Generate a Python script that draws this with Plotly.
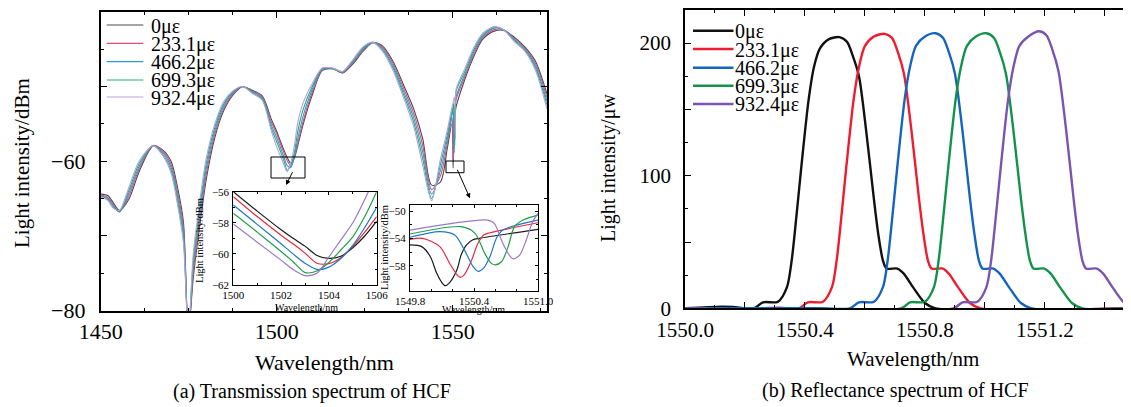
import plotly.graph_objects as go

# page is 1131x407; the html body adds an 8px margin, so the figure is laid out in page pixels minus 8
PAGE_W, PAGE_H, OFF = 1131, 407, 8
W, H = PAGE_W - OFF, PAGE_H - OFF
FONT = "Liberation Serif, Times New Roman, serif"

strain_labels = ["0με", "233.1με", "466.2με", "699.3με", "932.4με"]

# ---------------- (a) transmission spectrum, main plot ----------------
wl_main = [1450, 1452, 1453.5, 1455.3, 1458, 1461, 1464.9, 1467.5, 1470, 1472,
           1473.5, 1474.9, 1476.3, 1478, 1480, 1482.5, 1485, 1487.5, 1490.3, 1493,
           1495.9, 1498.5, 1500, 1501, 1502, 1503, 1504, 1505, 1506, 1507.5,
           1510, 1513, 1516, 1518.7, 1522, 1524.5, 1527.3, 1530, 1533, 1536.5,
           1539, 1541.5, 1544, 1546.5, 1548.5, 1549.8, 1550.13, 1550.27, 1550.44, 1550.6,
           1550.77, 1551.0, 1553.5, 1556, 1558.5, 1561.8, 1564.5, 1567.5, 1570.5, 1573.5,
           1576.8]
trans_0 = [-64.4, -64.6, -65.5, -66.6, -65.1, -61.3, -57.95, -58.45, -60.0, -63.9,
           -68.1, -83, -75.6, -69.1, -62.4, -56.7, -53.2, -51.2, -50.05, -50.5,
           -51.25, -54.4, -56.0, -57.25, -58.45, -59.5, -60.29, -59.6, -57.9, -55.1,
           -51.3, -47.85, -47.65, -48.2, -46.8, -45.3, -44.15, -44.55, -46.6, -50.3,
           -53.1, -57.0, -63.2, -62.8, -58.2, -54.95, -60.92, -57.0, -54.0, -53.8,
           -53.35, -52.67, -49.0, -46.0, -43.7, -42.6, -42.5, -43.4, -44.7, -46.6,
           -51.0]
trans_233 = [-64.5, -64.85, -65.7, -66.75, -64.7, -60.95, -57.9, -58.6, -60.4, -64.5,
             -68.8, -83, -74.8, -68.3, -61.7, -56.25, -52.9, -51.05, -50.0, -50.6,
             -51.4, -54.8, -56.32, -57.6, -58.8, -59.95, -60.62, -59.5, -57.6, -54.7,
             -50.9, -47.8, -47.6, -48.15, -46.65, -45.15, -44.1, -44.7, -46.9, -50.75,
             -53.7, -57.9, -63.8, -62.0, -57.6, -54.13, -56.5, -59.7, -54.8, -53.1,
             -52.6, -51.7, -48.65, -45.7, -43.5, -42.4, -42.45, -43.55, -44.85, -46.9,
             -51.5]
trans_466 = [-64.6, -65.0, -65.9, -66.8, -64.3, -60.6, -57.9, -58.8, -60.8, -65.1,
             -69.5, -83, -74.0, -67.5, -61.0, -55.8, -52.6, -50.9, -50.0, -50.7,
             -51.55, -55.2, -56.86, -58.1, -59.35, -60.6, -60.85, -59.45, -57.0, -54.0,
             -50.5, -47.7, -47.6, -48.1, -46.5, -45.0, -44.1, -44.9, -47.2, -51.2,
             -54.3, -58.8, -64.4, -61.3, -57.0, -53.83, -53.1, -54.6, -58.83, -54.5,
             -52.3, -51.31, -48.3, -45.4, -43.3, -42.2, -42.4, -43.7, -45.0, -47.2,
             -52.0]
trans_699 = [-64.7, -65.1, -66.1, -66.75, -63.9, -60.25, -57.9, -59.0, -61.2, -65.7,
             -70.2, -83, -73.2, -66.7, -60.3, -55.35, -52.3, -50.75, -50.0, -50.8,
             -51.7, -55.6, -57.39, -58.6, -59.85, -61.2, -60.55, -58.9, -56.0, -53.1,
             -50.1, -47.6, -47.6, -48.05, -46.35, -44.85, -44.1, -45.1, -47.5, -51.65,
             -54.9, -59.7, -65.0, -60.5, -56.4, -53.35, -52.8, -52.3, -54.2, -57.86,
             -52.7, -50.58, -47.95, -45.1, -43.1, -42.1, -42.4, -43.85, -45.15, -47.5,
             -52.5]
trans_932 = [-64.75, -65.25, -66.25, -66.6, -63.5, -59.9, -57.95, -59.15, -61.6, -66.3,
             -70.9, -83, -72.4, -65.9, -59.6, -54.9, -52.0, -50.6, -50.0, -50.9,
             -51.85, -56.0, -58.08, -59.25, -60.4, -61.4, -60.2, -58.0, -54.8, -52.2,
             -49.7, -47.5, -47.55, -48.0, -46.2, -44.7, -44.1, -45.25, -47.8, -52.1,
             -55.5, -60.6, -65.3, -59.8, -55.8, -52.77, -52.2, -51.8, -51.5, -51.9,
             -56.99, -50.34, -47.6, -44.8, -42.9, -42.0, -42.45, -44.0, -45.3, -47.8,
             -53.0]

# ---------------- inset 1 (1500-1506 nm) ----------------
wl_in1 = [1500, 1501, 1502, 1502.5, 1503, 1503.5, 1504, 1504.5, 1505, 1505.5, 1506]
in1_0 = [-56.0, -57.25, -58.45, -59.0, -59.5, -60.1, -60.29, -60.15, -59.6, -58.85, -57.9]
in1_233 = [-56.32, -57.6, -58.8, -59.35, -59.95, -60.6, -60.62, -60.25, -59.5, -58.6, -57.6]
in1_466 = [-56.86, -58.1, -59.35, -60.0, -60.6, -61.0, -60.85, -60.3, -59.45, -58.3, -57.0]
in1_699 = [-57.39, -58.6, -59.85, -60.5, -61.2, -61.1, -60.55, -59.75, -58.9, -57.6, -56.0]
in1_932 = [-58.08, -59.25, -60.4, -61.0, -61.4, -61.25, -60.2, -59.1, -58.0, -56.5, -54.8]

# ---------------- inset 2 (FBG dip region) ----------------
in2_wl_0 = [1549.80, 1549.91, 1549.99, 1550.05, 1550.10, 1550.13, 1550.17, 1550.24, 1550.28, 1550.33, 1550.39, 1550.45, 1551.00]
in2_0 = [-54.95, -55.2, -56.65, -59.08, -60.5, -60.92, -60.5, -58.6, -56.4, -54.95, -54.2, -53.98, -52.67]
in2_wl_233 = [1549.80, 1549.92, 1550.08, 1550.17, 1550.24, 1550.27, 1550.31, 1550.38, 1550.43, 1550.49, 1550.55, 1551.00]
in2_233 = [-54.13, -53.98, -55.2, -57.6, -59.3, -59.7, -59.3, -57.1, -54.95, -53.5, -53.16, -51.7]
in2_wl_466 = [1549.80, 1550.08, 1550.22, 1550.31, 1550.39, 1550.44, 1550.49, 1550.55, 1550.61, 1550.67, 1551.00]
in2_466 = [-53.83, -53.0, -53.5, -55.68, -58.1, -58.83, -58.35, -56.65, -53.98, -52.77, -51.31]
in2_wl_699 = [1549.80, 1550.28, 1550.41, 1550.50, 1550.56, 1550.60, 1550.66, 1550.72, 1550.78, 1550.86, 1551.00]
in2_699 = [-53.35, -52.28, -53.25, -56.17, -57.62, -57.86, -57.38, -55.2, -52.28, -51.31, -50.58]
in2_wl_932 = [1549.80, 1550.53, 1550.59, 1550.67, 1550.74, 1550.77, 1550.83, 1550.89, 1550.95, 1551.00]
in2_932 = [-52.77, -51.31, -51.8, -54.7, -56.65, -56.99, -56.4, -54.22, -51.55, -50.34]

# ---------------- (b) reflectance spectrum ----------------
refl_wl_0 = [1550.00, 1550.12, 1550.16, 1550.23, 1550.26, 1550.31, 1550.34, 1550.355, 1550.366, 1550.388,
             1550.412, 1550.43, 1550.45, 1550.48, 1550.515, 1550.54, 1550.56, 1550.58, 1550.605, 1550.63,
             1550.645, 1550.66, 1550.672, 1550.708, 1550.73, 1550.76, 1550.80, 1550.835, 1551.49]
refl_0 = [0, 1.2, 1.0, 0, 4.5, 5, 16, 35, 57, 107, 157, 182, 196, 203, 204.5, 201, 190, 175, 132, 82,
          55, 36, 30, 30, 26, 16, 4, 0, 0]
refl_wl_233 = [1550.00, 1550.25, 1550.31, 1550.38, 1550.41, 1550.46, 1550.49, 1550.505, 1550.516, 1550.538,
               1550.562, 1550.58, 1550.60, 1550.63, 1550.665, 1550.69, 1550.71, 1550.73, 1550.755, 1550.78,
               1550.795, 1550.81, 1550.822, 1550.86, 1550.88, 1550.91, 1550.95, 1550.985, 1551.49]
refl_233 = [0, 0, 0.5, 0, 4.5, 5, 16, 35, 57, 107, 157, 182, 198, 205, 207, 204, 193, 177, 134, 83,
            56, 36, 30, 30, 26, 16, 4, 0, 0]
refl_wl_466 = [1550.00, 1550.45, 1550.55, 1550.58, 1550.63, 1550.66, 1550.675, 1550.686, 1550.708, 1550.732,
               1550.75, 1550.77, 1550.80, 1550.835, 1550.86, 1550.88, 1550.90, 1550.925, 1550.95, 1550.965,
               1550.98, 1550.992, 1551.028, 1551.05, 1551.08, 1551.12, 1551.155, 1551.49]
refl_466 = [0, 0, 0, 4.5, 5, 16, 35, 57, 107, 157, 182, 198, 205, 207.5, 204, 193, 177, 134, 83, 56,
            36, 30, 30, 26, 16, 4, 0, 0]
refl_wl_699 = [1550.00, 1550.72, 1550.75, 1550.80, 1550.83, 1550.845, 1550.856, 1550.878, 1550.902, 1550.92,
               1550.94, 1550.97, 1551.005, 1551.03, 1551.05, 1551.07, 1551.095, 1551.12, 1551.135, 1551.15,
               1551.162, 1551.198, 1551.22, 1551.25, 1551.29, 1551.325, 1551.49]
refl_699 = [0, 0, 4.5, 5, 16, 35, 57, 107, 157, 182, 198, 205, 207.5, 204, 193, 177, 134, 83, 56, 36,
            30, 30, 26, 16, 4, 0, 0]
refl_wl_932 = [1550.00, 1550.895, 1550.925, 1550.975, 1551.005, 1551.02, 1551.031, 1551.053, 1551.077, 1551.095,
               1551.115, 1551.145, 1551.18, 1551.205, 1551.225, 1551.245, 1551.27, 1551.295, 1551.31, 1551.325,
               1551.337, 1551.373, 1551.395, 1551.425, 1551.465, 1551.50]
refl_932 = [0, 0, 4.5, 5, 16, 35, 57, 107, 157, 182, 198, 205, 209, 206, 195, 179, 136, 84, 56, 36,
            30, 30, 26, 16, 4, 0]

main_colors = ["#4a4a4a", "#e24a78", "#2a9dd8", "#2ea67a", "#b3a3dc"]
inset_colors = ["#1a1a1a", "#e8283c", "#1f78c8", "#1f9e48", "#9a78c8"]
refl_colors = ["#111111", "#ee1c2e", "#1565c0", "#12924a", "#7a55b0"]


def px(x):
    return (x - OFF) / W


def py(y):
    return 1 - (y - OFF) / H


fig = go.Figure()

main_series = [trans_0, trans_233, trans_466, trans_699, trans_932]
for name, ys, c in zip(strain_labels, main_series, main_colors):
    fig.add_trace(go.Scatter(x=wl_main, y=ys, mode="lines", name=name, showlegend=False,
                             line=dict(color=c, width=1.1, shape="spline", smoothing=0.8),
                             xaxis="x", yaxis="y"))

refl_series = [(refl_wl_0, refl_0), (refl_wl_233, refl_233), (refl_wl_466, refl_466),
               (refl_wl_699, refl_699), (refl_wl_932, refl_932)]
for name, (xs, ys), c in zip(strain_labels, refl_series, refl_colors):
    fig.add_trace(go.Scatter(x=xs, y=ys, mode="lines", name=name, showlegend=False,
                             line=dict(color=c, width=2.4, shape="spline", smoothing=0.8),
                             xaxis="x2", yaxis="y2"))

in1_series = [in1_0, in1_233, in1_466, in1_699, in1_932]
for name, ys, c in zip(strain_labels, in1_series, inset_colors):
    fig.add_trace(go.Scatter(x=wl_in1, y=ys, mode="lines", name=name, showlegend=False,
                             line=dict(color=c, width=1.2, shape="spline", smoothing=0.8),
                             xaxis="x3", yaxis="y3"))

in2_series = [(in2_wl_0, in2_0), (in2_wl_233, in2_233), (in2_wl_466, in2_466),
              (in2_wl_699, in2_699), (in2_wl_932, in2_932)]
for name, (xs, ys), c in zip(strain_labels, in2_series, inset_colors):
    fig.add_trace(go.Scatter(x=xs, y=ys, mode="lines", name=name, showlegend=False,
                             line=dict(color=c, width=1.2, shape="spline", smoothing=0.8),
                             xaxis="x4", yaxis="y4"))

axis_common = dict(showline=True, linecolor="black", mirror="ticks", ticks="inside",
                   showgrid=False, zeroline=False, tickcolor="black", automargin=False)

fig.update_layout(
    template="none",
    width=W, height=H, autosize=False,
    margin=dict(l=0, r=0, t=0, b=0, pad=0),
    paper_bgcolor="white", plot_bgcolor="white",
    font=dict(family=FONT, color="black"),
    showlegend=False,
    xaxis=dict(**axis_common, domain=[px(100.7), px(547)], range=[1450, 1576.8], anchor="y",
               tickvals=[1450, 1500, 1550], ticktext=["1450", "1500", "1550"],
               linewidth=1.6, ticklen=6, tickwidth=1.3, tickfont=dict(size=22),
               ticklabelstandoff=0,
               minor=dict(ticks="inside", tick0=1450, dtick=12.5, ticklen=3, tickcolor="black")),
    yaxis=dict(**axis_common, domain=[py(310.7), py(11.7)], range=[-80, -40], anchor="x",
               tickvals=[-80, -70, -60, -50, -40], ticktext=["−80", "", "−60", "", "−40"],
               linewidth=1.6, ticklen=6, tickwidth=1.3, tickfont=dict(size=22),
               ticklabelstandoff=9,
               minor=dict(ticks="inside", dtick=5, ticklen=3, tickcolor="black")),
    xaxis2=dict(**axis_common, domain=[px(685), 1.0], range=[1550.0, 1551.487], anchor="y2",
                tickvals=[1550.0, 1550.2, 1550.4, 1550.6, 1550.8, 1551.0, 1551.2, 1551.4],
                ticktext=["1550.0", "", "1550.4", "", "1550.8", "", "1551.2", ""],
                linewidth=1.8, ticklen=6, tickwidth=1.3, tickfont=dict(size=21),
                ticklabelstandoff=2,
                minor=dict(ticks="inside", dtick=0.1, tick0=1550.0, ticklen=3, tickcolor="black")),
    yaxis2=dict(**axis_common, domain=[py(308.3), py(10)], range=[0, 225], anchor="x2",
                tickvals=[0, 50, 100, 150, 200], ticktext=["0", "", "100", "", "200"],
                linewidth=1.8, ticklen=6, tickwidth=1.3, tickfont=dict(size=21),
                ticklabelstandoff=8,
                minor=dict(ticks="inside", dtick=25, ticklen=3, tickcolor="black")),
    xaxis3=dict(**axis_common, domain=[px(233.3), px(376.7)], range=[1500, 1506], anchor="y3",
                tickvals=[1500, 1502, 1504, 1506], ticktext=["1500", "1502", "1504", "1506"],
                linewidth=1, ticklen=3, tickfont=dict(size=11), ticklabelstandoff=0,
                minor=dict(ticks="inside", dtick=1, ticklen=2, tickcolor="black")),
    yaxis3=dict(**axis_common, domain=[py(285), py(191.7)], range=[-62, -56], anchor="x3",
                tickvals=[-62, -60, -58, -56], ticktext=["−62", "−60", "−58", "−56"],
                linewidth=1, ticklen=3, tickfont=dict(size=11), ticklabelstandoff=1,
                minor=dict(ticks="inside", dtick=1, ticklen=2, tickcolor="black")),
    xaxis4=dict(**axis_common, domain=[px(410), px(538)], range=[1549.8, 1551.0], anchor="y4",
                tickvals=[1549.8, 1550.4, 1551.0], ticktext=["1549.8", "1550.4", "1551.0"],
                linewidth=1, ticklen=3, tickfont=dict(size=11), ticklabelstandoff=0,
                minor=dict(ticks="inside", dtick=0.2, tick0=1549.8, ticklen=2, tickcolor="black")),
    yaxis4=dict(**axis_common, domain=[py(291), py(205)], range=[-61.7, -49.1], anchor="x4",
                tickvals=[-58, -54, -50], ticktext=["−58", "−54", "−50"],
                linewidth=1, ticklen=3, tickfont=dict(size=11), ticklabelstandoff=1,
                minor=dict(ticks="inside", dtick=2, ticklen=2, tickcolor="black")),
)

annotations = []


def text(t, x, y, size, angle=0, xanchor="center"):
    annotations.append(dict(text=t, x=px(x), y=py(y), xref="paper", yref="paper",
                            showarrow=False, textangle=angle, xanchor=xanchor, yanchor="middle",
                            font=dict(size=size, family=FONT, color="black")))


# axis titles and captions
text("Light intensity/dBm", 22, 163, 21, angle=-90)
text("Wavelength/nm", 324, 362, 22)
text("(a) Transmission spectrum of HCF", 312, 391, 20)
text("Light intensity/μw", 608, 168, 20, angle=-90)
text("Wavelength/nm", 913, 359, 21)
text("(b) Reflectance spectrum of HCF", 895, 390, 20)
# inset titles
text("Wavelength/nm", 306, 307, 10)
text("Light intensity/dBm", 199, 240, 10.5, angle=-90)
text("Wavelength/nm", 473, 309, 10)
text("Light intensity/dBm", 384, 248, 10.5, angle=-90)

shapes = []
# legends (drawn manually to match the tight spacing)
legend_left_y = [25, 43.3, 61.7, 80, 97]
legend_right_y = [30.7, 49, 67.7, 85.7, 104]
for name, c, yy in zip(strain_labels, main_colors, legend_left_y):
    shapes.append(dict(type="line", xref="paper", yref="paper", x0=px(106.7), x1=px(143.3),
                       y0=py(yy), y1=py(yy), line=dict(color=c, width=1.2)))
    text(name, 149, yy + 1, 20, xanchor="left")
for name, c, yy in zip(strain_labels, refl_colors, legend_right_y):
    shapes.append(dict(type="line", xref="paper", yref="paper", x0=px(693), x1=px(733.5),
                       y0=py(yy), y1=py(yy), line=dict(color=c, width=2.6)))
    text(name, 733, yy + 1, 20, xanchor="left")

# zoom boxes on the main plot
for (x0, x1, y0, y1) in [(271, 305, 157, 178), (446, 464, 161, 172.7)]:
    shapes.append(dict(type="rect", xref="paper", yref="paper", x0=px(x0), x1=px(x1),
                       y0=py(y1), y1=py(y0), line=dict(color="black", width=1)))

# arrows from boxes to insets
for (hx, hy, tx, ty) in [(286, 185, 293.3, 170.7), (470, 198.3, 456.7, 168.3)]:
    annotations.append(dict(x=px(hx), y=py(hy), xref="paper", yref="paper", text="",
                            showarrow=True, ax=tx - hx, ay=ty - hy, axref="pixel", ayref="pixel",
                            arrowhead=2, arrowsize=1, arrowwidth=1, arrowcolor="black"))

fig.update_layout(annotations=annotations, shapes=shapes)

fig.write_html("out.html")
